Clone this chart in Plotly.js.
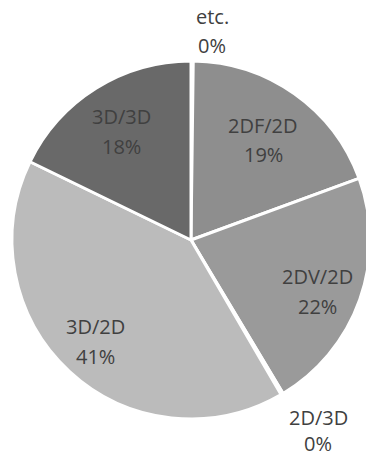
<!DOCTYPE html>
<html>
<head>
<meta charset="utf-8">
<script src="https://cdn.plot.ly/plotly-3.0.1.min.js"></script>
<style>
html, body { margin: 0; padding: 0; overflow: hidden; background: #fff; }
#chart { width: 380px; height: 457px; }
</style>
</head>
<body>
<div id="chart"></div>
<script>
var categories = ['etc.', '2DF/2D', '2DV/2D', '2D/3D', '3D/2D', '3D/3D'];
var shares = [0.2, 19.2, 22.0, 0.2, 40.6, 17.8];
var sliceColors = ['#8e8e8e', '#8e8e8e', '#9a9a9a', '#a5a5a5', '#bbbbbb', '#696969'];

// label placement (pixel centres of the name line and the percent line)
var labelX = [212, 263, 317, 318, 95, 121];
var nameY = [16, 125, 276, 417, 326, 116];
var pctY = [45, 154, 306, 443, 356, 146];

var W = 380, H = 457;
var M = { l: 12, r: 10, t: 61, b: 38 };
var plotW = W - M.l - M.r, plotH = H - M.t - M.b;
function px2x(p) { return (p - M.l) / plotW; }
function px2y(p) { return (H - M.b - p) / plotH; }

var total = shares.reduce(function (a, b) { return a + b; }, 0);
var annotations = [];
var font = { family: 'Open Sans', size: 20, color: '#404040' };
categories.forEach(function (c, i) {
  var pct = Math.round(shares[i] / total * 100) + '%';
  annotations.push({ text: c, xref: 'paper', yref: 'paper', x: px2x(labelX[i]), y: px2y(nameY[i]),
    xanchor: 'center', yanchor: 'middle', showarrow: false, font: font });
  annotations.push({ text: pct, xref: 'paper', yref: 'paper', x: px2x(labelX[i]), y: px2y(pctY[i]),
    xanchor: 'center', yanchor: 'middle', showarrow: false, font: font });
});

var trace = {
  type: 'pie',
  labels: categories,
  values: shares,
  sort: false,
  direction: 'clockwise',
  rotation: 0,
  marker: { colors: sliceColors, line: { color: '#ffffff', width: 3 } },
  textinfo: 'none',
  hoverinfo: 'none',
  showlegend: false
};

var layout = {
  width: W,
  height: H,
  margin: M,
  paper_bgcolor: '#ffffff',
  showlegend: false,
  annotations: annotations
};

Plotly.newPlot('chart', [trace], layout, { displayModeBar: false, staticPlot: true });
</script>
</body>
</html>
